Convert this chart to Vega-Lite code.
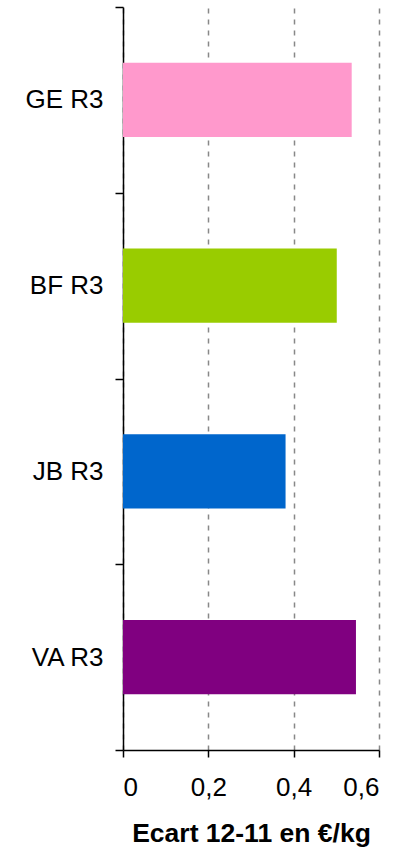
{
  "$schema": "https://vega.github.io/schema/vega-lite/v6.json",
  "width": 256,
  "height": 743,
  "autosize": {"type": "none"},
  "padding": {"left": 123, "top": 7, "right": 30, "bottom": 100},
  "background": "white",
  "config": {"view": {"stroke": null}, "font": "Liberation Sans"},
  "data": {
    "values": [
      {"cat": "GE R3", "value": 0.536},
      {"cat": "BF R3", "value": 0.501},
      {"cat": "JB R3", "value": 0.381},
      {"cat": "VA R3", "value": 0.546}
    ]
  },
  "mark": {"type": "bar", "height": {"band": 0.4}},
  "encoding": {
    "y": {
      "field": "cat",
      "type": "nominal",
      "sort": ["GE R3", "BF R3", "JB R3", "VA R3"],
      "scale": {"paddingInner": 0, "paddingOuter": 0},
      "axis": {
        "title": null,
        "tickBand": "extent",
        "labelFontSize": 26,
        "labelColor": "black",
        "labelPadding": 12,
        "tickSize": 8,
        "tickColor": "black",
        "tickWidth": 1.5,
        "domainColor": "black",
        "domainWidth": 1.5,
        "grid": false
      }
    },
    "x": {
      "field": "value",
      "type": "quantitative",
      "scale": {"domain": [0, 0.6], "nice": false},
      "axis": {
        "values": [0, 0.2, 0.4, 0.6],
        "labelExpr": "replace(format(datum.value, '.1~f'), '.', ',')",
        "labelFontSize": 26,
        "labelColor": "black",
        "labelPadding": 17,
        "tickSize": 7,
        "tickColor": "black",
        "tickWidth": 1.5,
        "domainColor": "black",
        "domainWidth": 1.5,
        "grid": true,
        "gridColor": "#888888",
        "gridDash": [5, 6],
        "gridWidth": 1.5,
        "title": "Ecart 12-11 en €/kg",
        "titleFontSize": 26.5,
        "titleFontWeight": "bold",
        "titleColor": "black",
        "titlePadding": 20
      }
    },
    "color": {
      "field": "cat",
      "type": "nominal",
      "scale": {
        "domain": ["GE R3", "BF R3", "JB R3", "VA R3"],
        "range": ["#FF99CC", "#99CC00", "#0066CC", "#800080"]
      },
      "legend": null
    }
  }
}
